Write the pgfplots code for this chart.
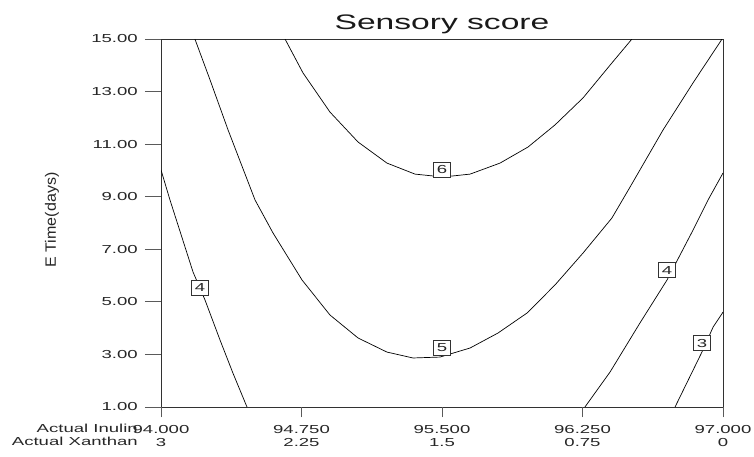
\documentclass[border=0pt]{standalone}
\usepackage{pgfplots}
\pgfplotsset{compat=1.18}
\usepackage{fontspec}
\setmainfont{Liberation Sans}
\newfontfamily\wide[FakeStretch=1.6]{Liberation Sans}
\newfontfamily\ylabfont[FakeStretch=1.07]{Liberation Sans}
\definecolor{axc}{RGB}{50,50,50}
\definecolor{tkc}{RGB}{90,90,90}

\pgfplotstableread{
x y
94.000 10.02
94.048 8.875
94.171 6.136
94.235 5.07
94.315 3.55
94.384 2.29
94.459 1.00
}\cfourleft
\pgfplotstableread{
x y
94.181 15.00
94.262 13.44
94.358 11.54
94.502 8.875
94.598 7.62
94.753 5.83
94.902 4.50
95.052 3.625
95.206 3.09
95.345 2.865
95.489 2.90
95.650 3.245
95.799 3.815
95.954 4.576
96.103 5.641
96.253 6.859
96.407 8.19
96.504 9.37
96.680 11.54
96.840 13.33
96.995 15.00
}\cfive
\pgfplotstableread{
x y
94.662 15.00
94.758 13.71
94.902 12.22
95.052 11.08
95.206 10.28
95.356 9.86
95.505 9.75
95.650 9.86
95.810 10.28
95.959 10.89
96.103 11.73
96.253 12.76
96.407 14.09
96.514 15.00
}\csix
\pgfplotstableread{
x y
96.263 1.00
96.397 2.33
96.557 4.20
96.701 5.83
96.840 7.73
96.920 8.875
97.000 9.90
}\cfourright
\pgfplotstableread{
x y
96.744 1.00
96.893 3.17
96.947 4.04
97.000 4.61
}\cthree
\pgfplotstableread{
x y label
94.208 5.53 4
95.500 3.245 5
95.500 10.02 6
96.701 6.21 4
96.888 3.43 3
}\clabels

\pgfplotsset{
  common/.style={
    scale only axis, width=562pt, height=368pt,
    at={(0,0)}, anchor=south west,
    xmin=94, xmax=97, ymin=1, ymax=15,
    tick align=outside,
    tick style={draw=tkc, line width=0.8pt},
    tick label style={font=\wide\fontsize{11.6}{13}\selectfont, text=black!85, inner sep=0pt},
  }
}

\begin{document}
\begin{tikzpicture}
% y ticks (longer marks)
\begin{axis}[common,
  axis line style={draw=none},
  xtick=\empty,
  ytick={1,3,5,7,9,11,13,15},
  yticklabels={1.00,3.00,5.00,7.00,9.00,11.00,13.00,15.00},
  ytick pos=left, major tick length=16pt,
  yticklabel style={anchor=east, xshift=-7pt},
]
\end{axis}
% main axis
\begin{axis}[common,
  axis line style={axc, line width=0.9pt},
  xtick={94,94.75,95.5,96.25,97},
  xticklabels={94.000,94.750,95.500,96.250,97.000},
  extra x ticks={94,94.75,95.5,96.25,97},
  extra x tick labels={3,2.25,1.5,0.75,0},
  extra x tick style={xticklabel style={yshift=-13pt}},
  ytick=\empty,
  xtick pos=bottom, major tick length=10pt,
  xticklabel style={anchor=north, yshift=-8pt},
  every node near coord/.append style={anchor=center, draw=axc, fill=white, line width=0.6pt,
     inner xsep=3.3pt, inner ysep=3.3pt, font=\wide\fontsize{11.6}{13}\selectfont, text=black!85},
]
\coordinate (O) at (rel axis cs:0,0);
\addplot[black, line width=0.7pt] table {\cfourleft};
\addplot[black, line width=0.7pt] table {\cfive};
\addplot[black, line width=0.7pt] table {\csix};
\addplot[black, line width=0.7pt] table {\cfourright};
\addplot[black, line width=0.7pt] table {\cthree};
\addplot[draw=none, mark=none, nodes near coords, point meta=explicit symbolic] table[meta=label] {\clabels};
\end{axis}
\path (O) ++(-23pt,-21pt) node[anchor=east, font=\wide\fontsize{11.6}{13}\selectfont, text=black!85, inner sep=0pt] {Actual Inulin};
\path (O) ++(-23pt,-34pt) node[anchor=east, font=\wide\fontsize{11.6}{13}\selectfont, text=black!85, inner sep=0pt] {Actual Xanthan};
\path (O) ++(-109pt,187pt) node[rotate=90, font=\ylabfont\fontsize{15}{15}\selectfont, text=black!85, inner sep=0pt] {E Time(days)};
\path (O) ++(281pt,377pt) node[anchor=base, font=\wide\fontsize{21}{21}\selectfont, text=black!90, inner sep=0pt] {Sensory score};
\pgfresetboundingbox
\path (O) ++(-161pt,-49pt) rectangle ++(754pt,456pt);
\end{tikzpicture}
\end{document}
